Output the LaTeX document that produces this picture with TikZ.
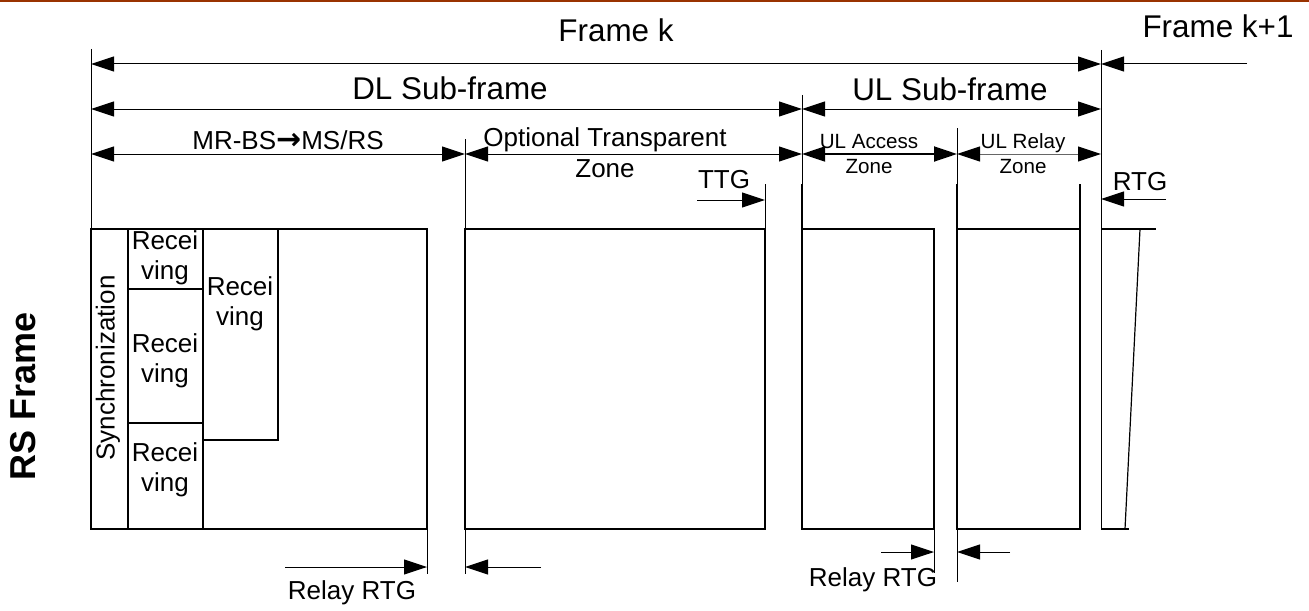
\documentclass[tikz,border=0pt]{standalone}
\usepackage{fontspec}
\setmainfont{Liberation Sans}
\newfontfamily\arrowfont{DejaVu Sans}
\usetikzlibrary{arrows.meta}
\definecolor{topbar}{RGB}{153,51,0}

\begin{document}
\begin{tikzpicture}[x=0.5pt, y=-0.5pt]
\tikzstyle{dim}=[line width=0.5pt, {Triangle[length=11.5pt, width=7.5pt, color=black]}-{Triangle[length=11.5pt, width=7.5pt, color=black]}]
\tikzstyle{gap}=[line width=0.5pt, -{Triangle[length=11.5pt, width=7.5pt]}]
\tikzstyle{zone}=[draw, line width=1.3pt]
\tikzstyle{guide}=[line width=0.5pt]
\tikzstyle{bigtxt}=[font=\fontsize{15.7}{18}\selectfont, inner sep=0pt]
\tikzstyle{midtxt}=[font=\fontsize{13}{15}\selectfont, inner sep=0pt, align=center]
\tikzstyle{smalltxt}=[font=\fontsize{10.3}{12.5}\selectfont, inner sep=0pt, align=center]

\useasboundingbox (0,0) rectangle (1309,610);
\fill[topbar] (0,0) rectangle (1309,2.5);

% frame boundaries
\coordinate (fk) at (91,64);
\coordinate (fk1) at (1101,64);
\coordinate (fnext) at (1247,64);
\coordinate (dl) at (91,109);
\coordinate (ul) at (802,109);
\coordinate (ulend) at (1101,109);
\coordinate (bs) at (91,154);
\coordinate (otz) at (465,154);
\coordinate (acc) at (802,154);
\coordinate (rel) at (957,154);
\coordinate (relend) at (1101,154);

% labels on top
\node (framek) [bigtxt] at (616,30) {Frame k};
\node (framek1) [bigtxt] at (1218,26) {Frame k+1};
\node (dlsub) [bigtxt] at (450,88) {DL Sub-frame};
\node (ulsub) [bigtxt] at (950,89) {UL Sub-frame};
\node (mrbs) [midtxt] at (288,140) {MR-BS{\arrowfont\bfseries\fontsize{15}{15}\selectfont →}MS/RS};
\node (optz) [midtxt, font=\fontsize{13}{15.5}\selectfont] at (605,153) {Optional Transparent\\Zone};
\node (ulacc) [smalltxt] at (869,154) {UL Access\\Zone};
\node (ulrel) [smalltxt] at (1023,154) {UL Relay\\Zone};
\node (ttg) [midtxt] at (724,180) {TTG};
\node (rtg) [midtxt] at (1140,182) {RTG};

% spans
\draw[dim] (fk) -- (fk1);
\draw[gap] (fnext) -- (fk1);
\draw[dim] (dl) -- (ul);
\draw[dim] (ul) -- (ulend);
\draw[dim] (bs) -- (otz);
\draw[dim] (otz) -- (acc);
\draw[dim, line width=0.9pt] (acc) -- (rel);
\draw[dim, draw=black!60] (rel) -- (relend);

% guide lines
\draw[guide] (91,49) -- (91,229);
\draw[guide] (1101,50) -- (1101,529);
\draw[guide] (802,95) -- (802,229);
\draw[guide] (957,128) -- (957,229);
\draw[guide] (465,139) -- (465,574);
\draw[guide] (765,184) -- (765,229);
\draw[guide] (427,529) -- (427,574);
\draw[guide] (934,529) -- (934,573);
\draw[guide] (957,529) -- (957,582);
\draw[line width=1pt] (802,184) -- (802,229);
\draw[line width=1pt] (957,184) -- (957,229);
\draw[line width=1pt] (1080,184) -- (1080,229);

% zones
\draw[zone] (91,229) rectangle (427,529);
\draw[zone] (128,229) -- (128,529);
\draw[zone] (203,229) -- (203,529);
\draw[zone] (128,289) -- (203,289);
\draw[zone] (128,423) -- (203,423);
\draw[zone] (203,440) -- (278,440) -- (278,229);
\draw[zone] (465,229) rectangle (765,529);
\draw[zone] (802,229) rectangle (934,529);
\draw[zone] (957,229) rectangle (1080,529);

% next frame
\draw[line width=0.6pt] (1101,229) -- (1156,229);
\draw[line width=0.6pt] (1140,229) -- (1125,529);
\draw[line width=0.6pt] (1101,529) -- (1129,529);

% zone texts
\node (sync) [midtxt, rotate=90] at (108,368) {Synchronization};
\node (recv1) [midtxt] at (165,258) {Recei\\ving};
\node (recv2) [midtxt] at (165,361) {Recei\\ving};
\node (recv3) [midtxt] at (165,470) {Recei\\ving};
\node (recv4) [midtxt] at (240,304) {Recei\\ving};
\node (rsframe) [font=\fontsize{18}{20}\selectfont\bfseries, rotate=90, inner sep=0pt] at (23,396) {RS Frame};

% gaps
\coordinate (ttgtail) at (697,200);
\coordinate (ttgtip) at (765,200);
\coordinate (rtgtail) at (1166,199);
\coordinate (rtgtip) at (1101,199);
\draw[gap] (ttgtail) -- (ttgtip);
\draw[gap] (rtgtail) -- (rtgtip);
\coordinate (r1tail) at (285,567);
\coordinate (r1tip) at (427,567);
\coordinate (r2tail) at (541,567);
\coordinate (r2tip) at (465,567);
\coordinate (r3tail) at (881,552);
\coordinate (r3tip) at (934,552);
\coordinate (r4tail) at (1010,552);
\coordinate (r4tip) at (957,552);
\draw[gap] (r1tail) -- (r1tip);
\draw[gap] (r2tail) -- (r2tip);
\draw[gap] (r3tail) -- (r3tip);
\draw[gap] (r4tail) -- (r4tip);
\node (relayrtg1) [midtxt] at (352,593) {Relay RTG};
\node (relayrtg2) [midtxt] at (873,580) {Relay RTG};
\end{tikzpicture}
\end{document}
